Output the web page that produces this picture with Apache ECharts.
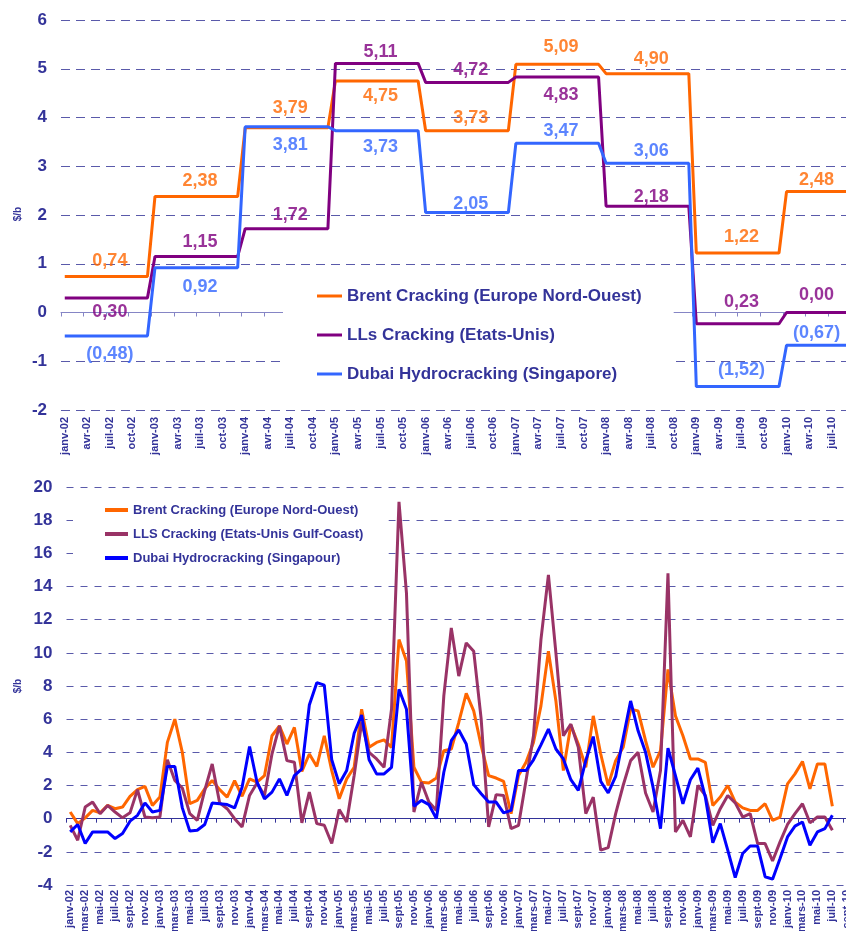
<!DOCTYPE html>
<html lang="fr">
<head>
<meta charset="UTF-8">
<title>marges de raffinage</title>
<script src="https://cdn.jsdelivr.net/npm/echarts@6/dist/echarts.min.js"></script>
<style>html, body { margin: 0; padding: 0; background: #fff; }</style>
</head>
<body>
<div id="main" style="width: 846px; height: 931px;"></div>
<script type="text/javascript">

    // libellés de l'axe des temps
    var moisNoms = ['janv', 'févr', 'mars', 'avr', 'mai', 'juin', 'juil', 'août', 'sept', 'oct', 'nov', 'déc'];
    var annees = ['02', '03', '04', '05', '06', '07', '08', '09', '10'];

    // graphique du haut : moyennes annuelles ($/b)
    var brentAnnuel = [0.74, 2.38, 3.79, 4.75, 3.73, 5.09, 4.90, 1.22, 2.48];
    var llsAnnuel = [0.30, 1.15, 1.72, 5.11, 4.72, 4.83, 2.18, -0.23, 0.00];
    var dubaiAnnuel = [-0.48, 0.92, 3.81, 3.73, 2.05, 3.47, 3.06, -1.52, -0.67];
    var brentTextes = ['0,74', '2,38', '3,79', '4,75', '3,73', '5,09', '4,90', '1,22', '2,48'];
    var llsTextes = ['0,30', '1,15', '1,72', '5,11', '4,72', '4,83', '2,18', '0,23', '0,00'];
    var dubaiTextes = ['(0,48)', '0,92', '3,81', '3,73', '2,05', '3,47', '3,06', '(1,52)', '(0,67)'];

    // graphique du bas : valeurs mensuelles janv-02 .. juil-10 ($/b)
    var brentMensuel = [
        0.4, -0.3, 0.05, 0.5, 0.35, 0.8, 0.6, 0.7, 1.35, 1.75, 1.95, 0.8,
        1.3, 4.6, 6.0, 4.0, 0.9, 1.1, 1.8, 2.3, 1.75, 1.3, 2.3, 1.35,
        2.4, 2.2, 2.6, 5.0, 5.6, 4.5, 5.5, 2.85, 3.9, 3.15, 5.0, 2.9,
        1.2, 2.4, 3.1, 6.6, 4.3, 4.6, 4.75, 4.3, 10.8, 9.5, 3.1, 2.2,
        2.15, 2.45, 4.1, 4.2, 5.8, 7.55, 6.5, 4.4, 2.6, 2.45, 2.25, 0.3,
        2.6, 3.4, 4.6, 6.8, 10.1, 7.1, 2.9, 5.65, 4.5, 3.1, 6.2, 3.9,
        2.0, 3.5, 4.3, 6.6, 6.5, 4.7, 3.1, 4.1, 9.0, 6.2, 5.0, 3.6,
        3.6, 3.4, 0.8, 1.3, 2.0, 1.0, 0.65, 0.5, 0.5, 0.9, -0.1, 0.1,
        2.1, 2.7, 3.45, 1.8, 3.3, 3.3, 0.75
    ];
    var llsMensuel = [
        -0.4, -1.3, 0.7, 1.0, 0.3, 0.8, 0.4, 0.05, 0.35, 1.75, 0.1, 0.05,
        0.1, 3.55, 2.3, 1.85, 0.3, -0.1, 1.7, 3.3, 0.95, 0.6, 0, -0.5,
        1.4, 2.15, 1.4, 3.9, 5.6, 3.5, 3.4, -0.25, 1.6, -0.3, -0.4, -1.5,
        0.55, -0.2, 2.6, 5.8, 4.0, 3.6, 3.1, 6.6, 19.1, 13.6, 0.4, 2.2,
        1.0, 0.5, 7.4, 11.5, 8.6, 10.6, 10.1, 6.0, -0.5, 1.45, 1.4, -0.6,
        -0.4, 2.3, 5.0, 10.8, 14.7, 10.0, 5.0, 5.7, 4.3, 0.3, 1.3, -1.9,
        -1.75, 0.3, 2.0, 3.5, 4.0, 1.55, 0.4, 2.9, 14.8, -0.8, -0.1, -1.1,
        2.0, 1.4, -0.4, 0.6, 1.4, 0.95, 0.1, 0.3, -1.5, -1.5, -2.55, -1.4,
        -0.35, 0.3, 0.9, -0.25, 0.1, 0.1, -0.7
    ];
    var dubaiMensuel = [
        -0.8, -0.35, -1.5, -0.8, -0.8, -0.8, -1.2, -0.9, -0.15, 0.2, 0.95, 0.4,
        0.5, 3.15, 3.15, 0.65, -0.75, -0.7, -0.35, 0.95, 0.9, 0.85, 0.65, 1.9,
        4.35, 2.2, 1.2, 1.6, 2.4, 1.4, 2.6, 3.0, 6.85, 8.2, 8.05, 3.55,
        2.1, 2.9, 5.15, 6.25, 3.55, 2.7, 2.7, 3.1, 7.8, 6.6, 0.75, 1.1,
        0.85, 0, 2.8, 4.7, 5.35, 4.5, 2.05, 1.5, 1.0, 1.0, 0.35, 0.5,
        2.9, 2.9, 3.55, 4.45, 5.4, 4.2, 3.6, 2.35, 1.7, 3.5, 4.95, 2.25,
        1.55, 2.55, 4.85, 7.1, 5.3, 4.0, 1.9, -0.6, 4.25, 2.6, 0.9, 2.35,
        3.05, 1.3, -1.45, -0.3, -1.9, -3.55, -2.1, -1.65, -1.65, -3.5, -3.65, -2.4,
        -1.1, -0.45, -0.2, -1.6, -0.8, -0.6, 0.2
    ];

    var FONT = '"Liberation Sans", Arial, sans-serif';
    var INK = '#333399';

    // décalage vertical des étiquettes du haut (px, négatif = au-dessus)
    var brentDecal = [-15, -15, -20, 15, -13, -17, -15, -16, -12];
    var llsDecal = [14, -14, -14, -11, -12, 18, -9, -22, -17];
    var dubaiDecal = [18, 19, 18, 16, -9, -12, -12, -17, -12];

    var mois = [];
    annees.forEach(function (a) {
        moisNoms.forEach(function (m) { mois.push(m + '-' + a); });
    });
    var moisBas = mois.slice(0, 106);

    var mensuel = function (annuel) {
        var res = [];
        annuel.forEach(function (v) {
            for (var k = 0; k < 12; k++) res.push(v);
        });
        return res;
    };

    var etiquettes = function (annuel, textes, decal, couleur) {
        return annuel.map(function (v, i) {
            return {
                value: [i * 12 + (i === 8 ? 4 : 6), v],
                label: {
                    show: true, position: 'inside', offset: [0, decal[i]],
                    formatter: textes[i], color: couleur,
                    fontSize: 18, fontWeight: 'bold', fontFamily: FONT
                }
            };
        });
    };

    var ligne = function (name, data, color, xi, yi) {
        return {
            name: name, type: 'line', xAxisIndex: xi, yAxisIndex: yi,
            data: data, symbol: 'none', smooth: false,
            lineStyle: {color: color, width: 3},
            itemStyle: {color: color}
        };
    };

    var axeY = function (grid, min, max, step, dash) {
        return {
            type: 'value', gridIndex: grid, min: min, max: max, interval: step,
            axisLine: {show: false}, axisTick: {show: false},
            axisLabel: {color: INK, fontSize: 17, fontWeight: 'bold', fontFamily: FONT, margin: 14},
            splitLine: {lineStyle: {color: '#5a5aaa', width: 1, type: dash}}
        };
    };

    var axeXLibelles = function (grid, data, interval, margin) {
        return {
            type: 'category', gridIndex: grid, data: data, boundaryGap: true, position: 'bottom',
            axisLine: {show: false, onZero: false}, axisTick: {show: false},
            axisLabel: {interval: interval, rotate: 90, color: INK, fontSize: 11, fontWeight: 'bold',
                fontFamily: FONT, margin: margin, hideOverlap: false},
            splitLine: {show: false}
        };
    };

    var axeXZero = function (grid, data, interval, color) {
        return {
            type: 'category', gridIndex: grid, data: data, boundaryGap: true, position: 'bottom',
            axisLine: {show: true, onZero: true, lineStyle: {color: color, width: 1}},
            axisTick: {show: true, interval: interval, length: 4, lineStyle: {color: color}},
            axisLabel: {show: false}, splitLine: {show: false}
        };
    };

    var topNoms = ['Brent Cracking (Europe Nord-Ouest)', 'LLs Cracking (Etats-Unis)', 'Dubai Hydrocracking (Singapore)'];
    var basNoms = ['Brent Cracking (Europe Nord-Ouest)', 'LLS Cracking (Etats-Unis Gulf-Coast)', 'Dubai Hydrocracking (Singapour)'];

    var option = {
        animation: false,
        backgroundColor: '#fff',
        textStyle: {fontFamily: FONT},
        grid: [
            {left: 61, top: 20, height: 390, width: 812, outerBoundsMode: 'none', containLabel: false},
            {left: 66.5, top: 487, height: 398, width: 792, outerBoundsMode: 'none', containLabel: false}
        ],
        legend: [
            {
                data: topNoms, orient: 'vertical', left: 283, top: 272,
                padding: [15, 32, 14, 34], itemGap: 21, itemTextGap: 3,
                itemWidth: 25, itemHeight: 3, icon: 'rect',
                backgroundColor: '#fff',
                textStyle: {color: INK, fontSize: 17, fontWeight: 'bold', fontFamily: FONT, lineHeight: 18}
            },
            {
                data: basNoms, orient: 'vertical', left: 73, top: 494,
                padding: [8, 25, 12, 32], itemGap: 8, itemTextGap: 3,
                itemWidth: 23, itemHeight: 4, icon: 'rect',
                backgroundColor: '#fff',
                textStyle: {color: INK, fontSize: 13, fontWeight: 'bold', fontFamily: FONT, lineHeight: 16}
            }
        ],
        xAxis: [
            axeXLibelles(0, mois, 2, 7),
            axeXZero(0, mois, 2, '#8585c5'),
            axeXLibelles(1, moisBas, 1, 5),
            axeXZero(1, moisBas, 1, INK)
        ],
        yAxis: [
            axeY(0, -2, 6, 1, [9, 6]),
            axeY(1, -4, 20, 2, [7, 7])
        ],
        graphic: [
            {type: 'text', x: 18, y: 214, rotation: Math.PI / 2,
                style: {text: '$/b', fill: INK, fontSize: 10, fontWeight: 'bold', fontFamily: FONT,
                    align: 'center', verticalAlign: 'middle'}},
            {type: 'text', x: 18, y: 686, rotation: Math.PI / 2,
                style: {text: '$/b', fill: INK, fontSize: 10, fontWeight: 'bold', fontFamily: FONT,
                    align: 'center', verticalAlign: 'middle'}}
        ],
        series: [
            ligne(topNoms[0], mensuel(brentAnnuel), '#FF6600', 0, 0),
            ligne(topNoms[1], mensuel(llsAnnuel), '#800080', 0, 0),
            ligne(topNoms[2], mensuel(dubaiAnnuel), '#3366FF', 0, 0),
            ligne(basNoms[0], brentMensuel, '#FF6600', 2, 1),
            ligne(basNoms[1], llsMensuel, '#993366', 2, 1),
            ligne(basNoms[2], dubaiMensuel, '#0000FF', 2, 1),
            {
                name: 'etiq', type: 'scatter', xAxisIndex: 0, yAxisIndex: 0, silent: true, z: 5,
                symbolSize: 1, itemStyle: {color: 'rgba(0,0,0,0)'},
                data: etiquettes(brentAnnuel, brentTextes, brentDecal, '#FF6600')
                    .concat(etiquettes(llsAnnuel, llsTextes, llsDecal, '#800080'))
                    .concat(etiquettes(dubaiAnnuel, dubaiTextes, dubaiDecal, '#3366FF'))
            }
        ]
    };

    var myChart = echarts.init(document.getElementById('main'));
    myChart.setOption(option);

</script>
</body>
</html>
